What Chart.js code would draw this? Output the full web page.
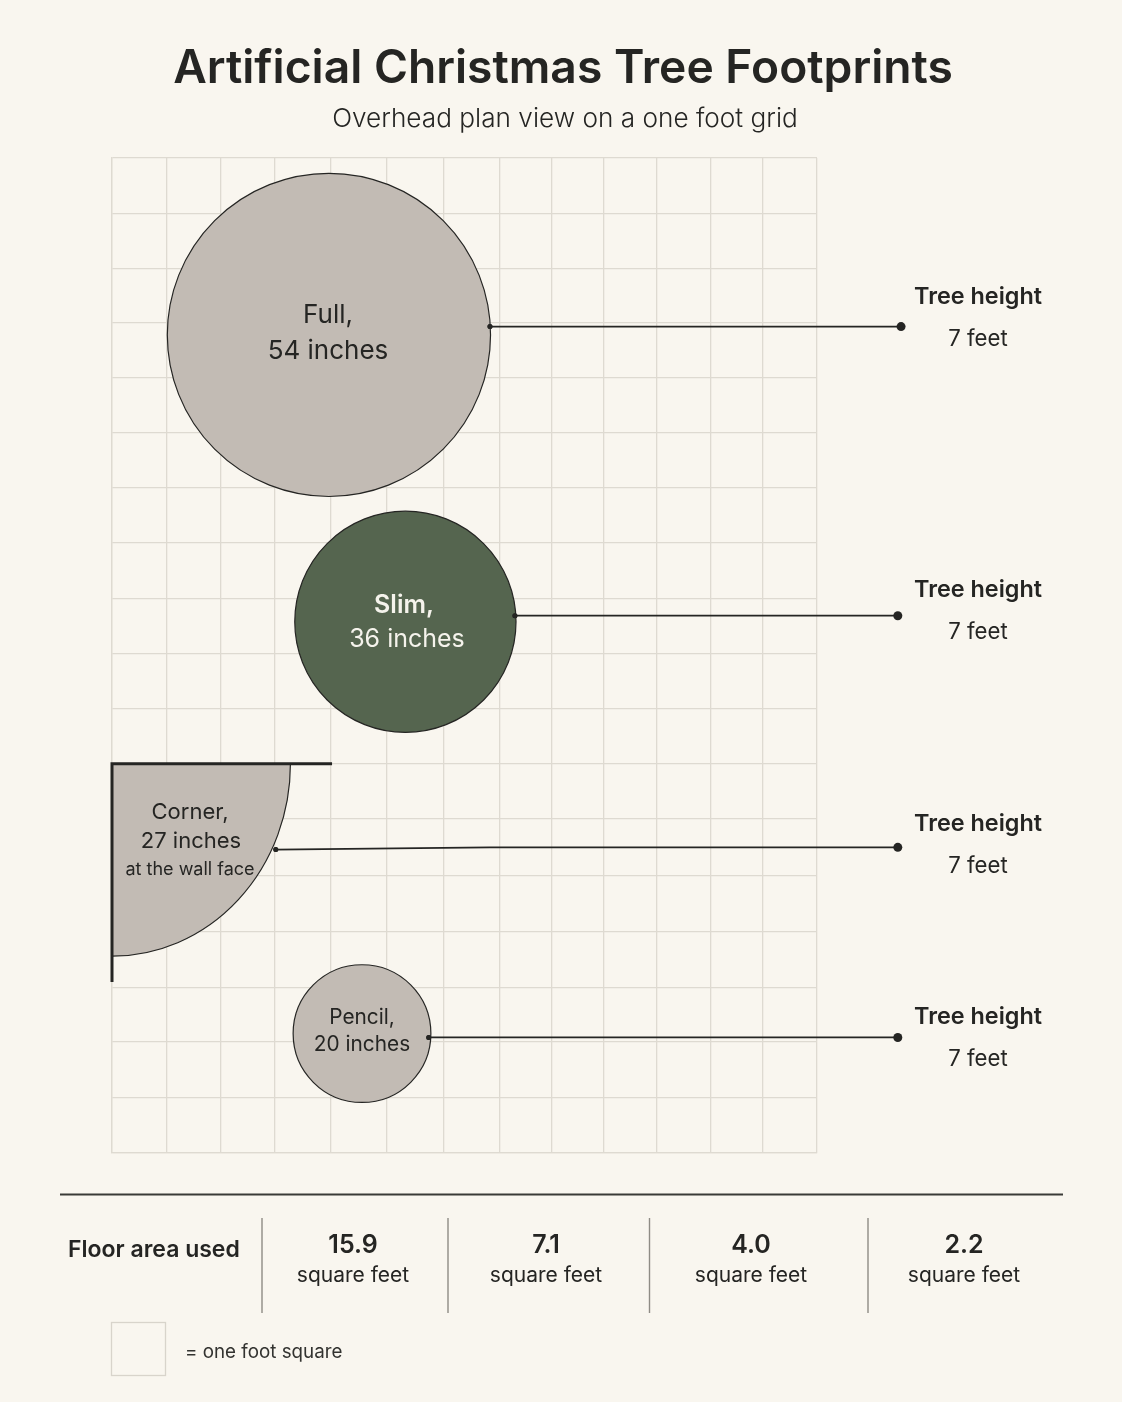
<!DOCTYPE html>
<html>
<head>
<meta charset="utf-8">
<title>Artificial Christmas Tree Footprints</title>
<script src="https://cdn.jsdelivr.net/npm/chart.js@4"></script>
<style>
    html, body { margin: 0; padding: 0; background: #f9f6ef; }
    canvas { display: block; }
</style>
</head>
<body>
<canvas id="footprintChart" width="1122" height="1402"></canvas>
<script>
// Grid lines, in feet
const gridColumns = [0, 1, 2, 3, 4.03, 5.07, 6.12, 7.14, 8.11, 9.07, 10.05, 11.03, 12, 13];
const gridRows = [0, 1, 2, 2.97, 3.97, 4.97, 5.97, 6.96, 7.97, 8.97, 9.96, 10.96, 11.95, 12.98, 14, 15, 15.98, 17, 18];

// Round trees: Full, Slim, Pencil
const roundCenterX = [4.0, 5.41, 4.61];
const roundCenterY = [3.2, 8.39, 15.84];
const roundRadius = [2.98, 2.04, 1.27];

// Corner tree sits against two walls
const cornerRadiusX = 3.29;
const cornerRadiusY = 3.48;
const wallX = [4.03, 0, 0];
const wallY = [10.96, 10.96, 14.88];

// Leader lines: Full, Slim, Corner, Pencil (the corner one has a small kink)
const leaderX = [[6.97, 14.55], [7.43, 14.49], [3.02, 6.97, 14.49], [5.84, 14.49]];
const leaderY = [[3.05, 3.05], [8.28, 8.28], [12.51, 12.47, 12.47], [15.91, 15.91]];

// Text
const titleText = "Artificial Christmas Tree Footprints";
const subtitleText = "Overhead plan view on a one foot grid";
const treeNames = ["Full,", "Slim,", "Corner,", "Pencil,"];
const treeInches = [54, 36, 27, 20];
const treeHeightFeet = [7, 7, 7, 7];
const floorAreas = [15.9, 7.1, 4.0, 2.2];

const BG_TAUPE = "#c2bbb4";
const BG_GREEN = "#55654f";
const INK = "#252523";
const GRID = "#dedad1";

const FONT = "Inter, 'Noto Sans', sans-serif";

function label(ctx, text, x, y, font, color, align) {
    ctx.font = font + " " + FONT;
    ctx.fillStyle = color || INK;
    ctx.textAlign = align || "center";
    ctx.textBaseline = "middle";
    ctx.fillText(text, x, y);
}

//////////////////////////////////
// Corner quarter circle, under the datasets
//////////////////////////////////
const cornerPlugin = {
    id: "cornerTree",
    beforeDatasetsDraw(chart) {
        const { ctx, scales: { x, y } } = chart;
        const cx = x.getPixelForValue(wallX[1]);
        const cy = y.getPixelForValue(wallY[1]);
        const rx = x.getPixelForValue(cornerRadiusX) - x.getPixelForValue(0);
        const ry = y.getPixelForValue(cornerRadiusY) - y.getPixelForValue(0);
        ctx.save();
        ctx.beginPath();
        ctx.moveTo(cx, cy);
        ctx.ellipse(cx, cy, rx, ry, 0, 0, Math.PI / 2);
        ctx.closePath();
        ctx.fillStyle = BG_TAUPE;
        ctx.fill();
        ctx.beginPath();
        ctx.ellipse(cx, cy, rx, ry, 0, 0, Math.PI / 2);
        ctx.strokeStyle = INK;
        ctx.lineWidth = 1.2;
        ctx.stroke();
        ctx.restore();
    }
};

//////////////////////////////////
// Text, floor area table and key
//////////////////////////////////
const textPlugin = {
    id: "pageText",
    afterDatasetsDraw(chart) {
        const { ctx } = chart;
        ctx.save();

        // leader end dots sit outside the chart area, redraw them with the whole page as area
        const page = { left: 0, top: 0, right: chart.width, bottom: chart.height };
        chart.data.datasets.forEach((ds, i) => {
            if (ds.isLeader) {
                chart.getDatasetMeta(i).data.forEach(p => p.draw(ctx, page));
            }
        });

        label(ctx, titleText, 563, 69, "600 46.2px");
        label(ctx, subtitleText, 565, 119, "300 26.2px");

        // tree labels
        label(ctx, treeNames[0], 328, 315, "400 26px");
        label(ctx, treeInches[0] + " inches", 328, 351, "400 26px");
        label(ctx, treeNames[1], 404, 605, "600 25px", "#f5f3ec");
        label(ctx, treeInches[1] + " inches", 407, 639, "400 25px", "#f5f3ec");
        label(ctx, treeNames[2], 190, 812, "400 22px");
        label(ctx, treeInches[2] + " inches", 191, 841, "400 22px");
        label(ctx, "at the wall face", 190, 870, "400 18px");
        label(ctx, treeNames[3], 362, 1018, "400 20.8px");
        label(ctx, treeInches[3] + " inches", 362, 1045, "400 20.8px");

        // tree heights
        const heightRows = [297, 590, 824, 1017];
        treeHeightFeet.forEach((feet, i) => {
            label(ctx, "Tree height", 978, heightRows[i], "600 23.4px");
            label(ctx, feet + " feet", 978, heightRows[i] + 42, "400 22.2px");
        });

        // table rule and dividers
        ctx.strokeStyle = "#3a3a37";
        ctx.lineWidth = 2;
        ctx.beginPath();
        ctx.moveTo(60, 1194.5);
        ctx.lineTo(1063, 1194.5);
        ctx.stroke();

        ctx.strokeStyle = "#8f8c85";
        ctx.lineWidth = 1.4;
        [262, 448, 649.5, 868].forEach(px => {
            ctx.beginPath();
            ctx.moveTo(px, 1218);
            ctx.lineTo(px, 1313);
            ctx.stroke();
        });

        label(ctx, "Floor area used", 68, 1250, "600 23px", INK, "left");
        const areaCols = [353, 546, 751, 964];
        floorAreas.forEach((area, i) => {
            label(ctx, area.toFixed(1), areaCols[i], 1245, "600 25px");
            label(ctx, "square feet", areaCols[i], 1276, "400 21px");
        });

        // key
        ctx.strokeStyle = "#d8d4cb";
        ctx.lineWidth = 1.3;
        ctx.strokeRect(111.5, 1322.5, 54, 53);
        label(ctx, "= one foot square", 185, 1352, "400 18.8px", "#333330", "left");

        ctx.restore();
    }
};

//////////////////////////////////
// Chart
//////////////////////////////////
const leaderDatasets = leaderX.map((xs, i) => ({
    type: "line",
    isLeader: true,
    data: xs.map((lx, j) => ({ x: lx, y: leaderY[i][j] })),
    borderColor: INK,
    borderWidth: 1.8,
    tension: 0,
    clip: false,
    pointBackgroundColor: INK,
    pointBorderWidth: 0,
    pointRadius: ctx => ctx.dataIndex === 0 ? 2.5 : (ctx.dataIndex === xs.length - 1 ? 4.5 : 0),
    order: 1
}));

const chart = new Chart(document.getElementById("footprintChart"), {
    type: "bubble",
    data: {
        datasets: [
            {
                data: roundCenterX.map((cx, i) => ({ x: cx, y: roundCenterY[i], r: 0 })),
                backgroundColor: [BG_TAUPE, BG_GREEN, BG_TAUPE],
                borderColor: INK,
                borderWidth: 1.2,
                clip: false,
                order: 2
            },
            {
                type: "line",
                data: wallX.map((wx, i) => ({ x: wx, y: wallY[i] })),
                borderColor: INK,
                borderWidth: 3,
                pointRadius: 0,
                tension: 0,
                clip: false,
                borderCapStyle: "square",
                order: 1
            },
            ...leaderDatasets
        ]
    },
    options: {
        responsive: false,
        animation: false,
        events: [],
        layout: { autoPadding: false, padding: { left: 112, top: 158, right: 305, bottom: 249 } },
        plugins: {
            legend: { display: false },
            tooltip: { enabled: false },
            title: { display: false }
        },
        scales: {
            x: {
                type: "linear",
                min: 0,
                max: 13,
                afterBuildTicks: axis => { axis.ticks = gridColumns.map(value => ({ value })); },
                ticks: { display: false },
                grid: { color: GRID, lineWidth: 1.3, drawTicks: false },
                border: { color: GRID, width: 1.3 }
            },
            y: {
                type: "linear",
                reverse: true,
                min: 0,
                max: 18,
                afterBuildTicks: axis => { axis.ticks = gridRows.map(value => ({ value })); },
                ticks: { display: false },
                grid: { color: GRID, lineWidth: 1.3, drawTicks: false },
                border: { color: GRID, width: 1.3 }
            }
        }
    },
    plugins: [cornerPlugin, textPlugin]
});

// bubble r is in pixels, so convert the radii in feet once the x scale is laid out
const xScale = chart.scales.x;
chart.data.datasets[0].data = roundCenterX.map((cx, i) => ({
    x: cx,
    y: roundCenterY[i],
    r: xScale.getPixelForValue(roundRadius[i]) - xScale.getPixelForValue(0)
}));
chart.update();
</script>
</body>
</html>
